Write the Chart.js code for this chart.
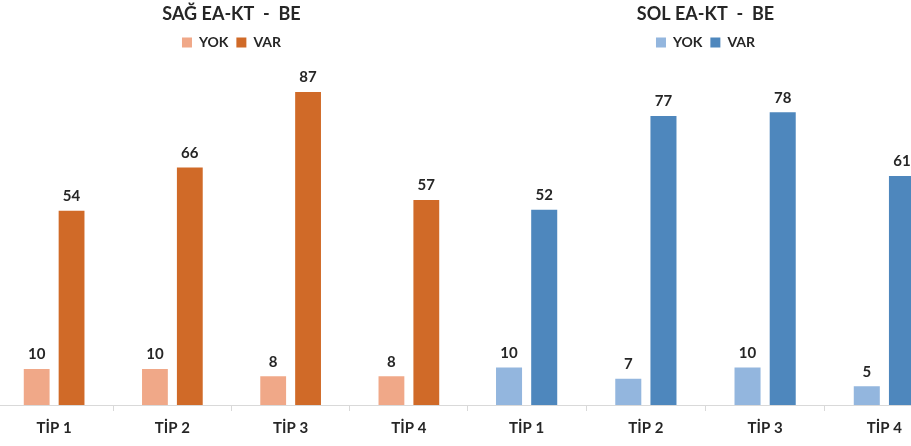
<!DOCTYPE html>
<html>
<head>
<meta charset="utf-8">
<script src="https://cdn.jsdelivr.net/npm/chart.js@4.4.0/dist/chart.umd.min.js"></script>
<style>
  html, body { margin: 0; padding: 0; background: #fff; }
  #wrap { position: relative; width: 911px; height: 446px; overflow: hidden; }
  .box { position: absolute; top: 0; height: 446px; }
  #leftBox { left: -26px; width: 494px; }
  #rightBox { left: 467px; width: 516px; }
</style>
</head>
<body>
<div id="wrap">
  <div class="box" id="leftBox"><canvas id="sagChart"></canvas></div>
  <div class="box" id="rightBox"><canvas id="solChart"></canvas></div>
</div>
<script>
// kategoriler
const categories = ['TİP 1', 'TİP 2', 'TİP 3', 'TİP 4'];
const seriesNames = ['YOK', 'VAR'];

// SAĞ EA-KT - BE
const sagYok = [10, 10, 8, 8];
const sagVar = [54, 66, 87, 57];

// SOL EA-KT - BE
const solYok = [10, 7, 10, 5];
const solVar = [52, 77, 78, 61];

const FONT = 'Lato, "Open Sans", sans-serif';
const TEXT = '#262626';

// etiketler barların üstünde
const valueLabels = {
    id: 'valueLabels',
    afterDatasetsDraw(chart) {
        const ctx = chart.ctx;
        ctx.save();
        ctx.font = 'bold 15px ' + FONT;
        ctx.fillStyle = TEXT;
        ctx.textAlign = 'center';
        ctx.textBaseline = 'bottom';
        chart.data.datasets.forEach((ds, i) => {
            chart.getDatasetMeta(i).data.forEach((bar, j) => {
                ctx.fillText(ds.data[j], bar.x, bar.y - 7);
            });
        });
        ctx.restore();
    }
};

function makeChart(id, title, yok, vr, colors, yMax, pad) {
    return new Chart(document.getElementById(id), {
        type: 'bar',
        data: {
            labels: categories,
            datasets: [
                { label: seriesNames[0], data: yok, backgroundColor: colors[0] },
                { label: seriesNames[1], data: vr, backgroundColor: colors[1] }
            ]
        },
        options: {
            responsive: true,
            maintainAspectRatio: false,
            animation: false,
            datasets: { bar: { categoryPercentage: 0.59, barPercentage: 0.74 } },
            layout: { padding: pad },
            plugins: {
                title: {
                    display: true,
                    text: title,
                    color: TEXT,
                    font: { family: FONT, size: 18, weight: 'bold' },
                    padding: { top: 3, bottom: 3 }
                },
                legend: {
                    display: true,
                    labels: {
                        color: TEXT,
                        boxWidth: 10,
                        boxHeight: 10,
                        padding: 8,
                        font: { family: FONT, size: 14, weight: 'bold' }
                    }
                },
                tooltip: { enabled: false }
            },
            scales: {
                x: {
                    grid: { drawOnChartArea: false, drawTicks: true, tickLength: 6, color: '#d9d9d9' },
                    border: { color: '#d9d9d9' },
                    ticks: { color: TEXT, padding: 8, font: { family: FONT, size: 15, weight: 'bold' } }
                },
                y: { display: false, min: 0, max: yMax }
            }
        },
        plugins: [valueLabels]
    });
}

makeChart('sagChart', 'SAĞ EA-KT  -  BE', sagYok, sagVar, ['#F0A888', '#D06A28'], 96, { left: 21, right: 0, top: 0, bottom: 1 });
makeChart('solChart', 'SOL EA-KT  -  BE', solYok, solVar, ['#93B6DE', '#4E87BD'], 92, { left: 0, right: 39, top: 0, bottom: 1 });
</script>
</body>
</html>
